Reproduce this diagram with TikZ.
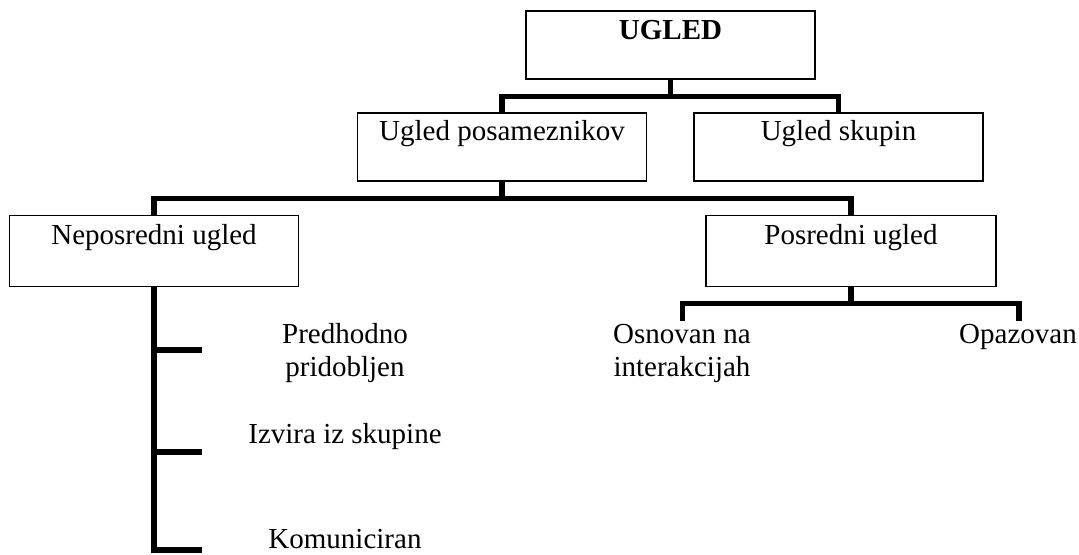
\documentclass[tikz,border=0pt]{standalone}
\usepackage{fontspec}
\setmainfont{Liberation Serif}
\begin{document}
\begin{tikzpicture}[x=0.5pt,y=-0.5pt,
  txt/.style={font=\fontsize{14.5}{16.75}\selectfont},
  box/.style={txt, draw, line width=0.85pt, inner sep=0pt,
    minimum width=144.5pt, text height=14pt, text depth=20pt},
  lowbox/.style={text height=14.75pt, text depth=20.75pt},
  lbl/.style={txt, inner sep=0pt, align=center, anchor=base},
  conn/.style={line width=2.8pt, line join=miter}]
\useasboundingbox (0,0) rectangle (1079,555);

% boxes of the hierarchy
\node[box, font=\fontsize{14.5}{16.75}\selectfont\bfseries] (ugled) at (670.5,45.3) {UGLED};
\node[box] (posam) at (502,147) {Ugled posameznikov};
\node[box] (skupin) at (838.5,147) {Ugled skupin};
\node[box, lowbox] (nepos) at (154,251) {Neposredni ugled};
\node[box, lowbox, minimum width=145pt] (posr) at (851,251) {Posredni ugled};

% free labels (base anchor sits on the last line)
\node[lbl] (osn) at (682,376.5) {Osnovan na\\interakcijah};
\node[lbl] (opaz) at (1018,343) {Opazovan};
\node[lbl] (pred) at (345,376.5) {Predhodno\\pridobljen};
\node[lbl] (izv) at (345,443.3) {Izvira iz skupine};
\node[lbl] (kom) at (345,548) {Komuniciran};

% junctions and free ends of the connectors
\coordinate (j1) at (670.5,96.5);
\coordinate (j2) at (502,198.5);
\coordinate (j3) at (851,303.6);
\coordinate (e1) at (682.4,321);
\coordinate (e2) at (1019,321);
\coordinate (t1) at (201.7,350);
\coordinate (t2) at (201.7,451.7);
\coordinate (t3) at (201.7,550);

% first level
\draw[conn] (ugled.south) -- (j1);
\draw[conn] (posam.north) |- (j1) -| (skupin.north);
% second level
\draw[conn] (posam.south) -- (j2);
\draw[conn] (nepos.north) |- (j2) -| (posr.north);
% branches of "Posredni ugled"
\draw[conn] (posr.south) -- (j3);
\draw[conn] (e1) |- (j3) -| (e2);
% comb of "Neposredni ugled"
\draw[conn] (nepos.south) |- (t3);
\draw[conn] (nepos.south |- t1) -- (t1);
\draw[conn] (nepos.south |- t2) -- (t2);
\end{tikzpicture}
\end{document}
